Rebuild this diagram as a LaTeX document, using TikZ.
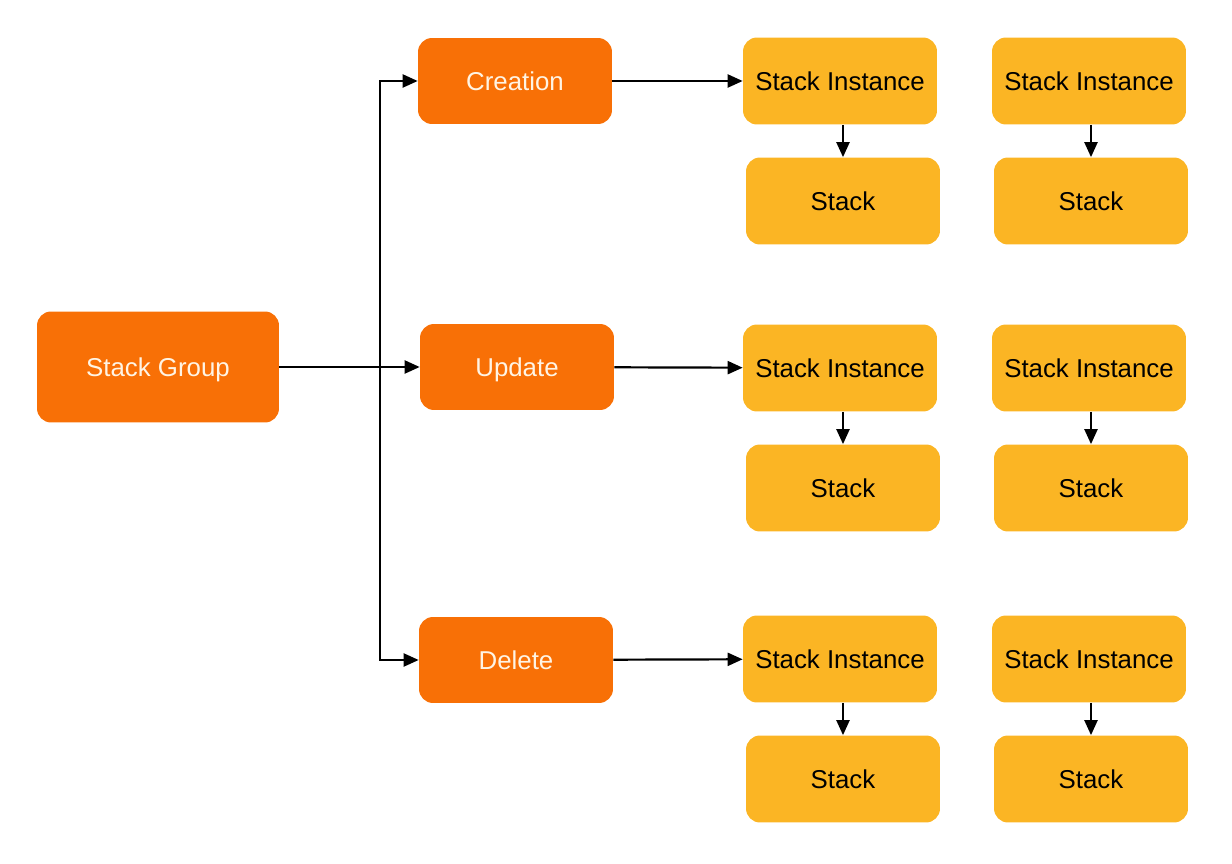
\documentclass[tikz,border=0pt]{standalone}
\usepackage{fontspec}
\setmainfont{Liberation Sans}
\usetikzlibrary{arrows.meta}

\definecolor{opOrange}{RGB}{248,112,6}
\definecolor{opText}{RGB}{255,244,228}
\definecolor{stYellow}{RGB}{251,181,36}

\tikzset{
  opbox/.style={fill=opOrange, text=opText, rounded corners=0.28cm,
    minimum width=3.88cm, minimum height=1.72cm, inner sep=0pt,
    text height=10.4pt, text depth=0pt,
    font=\fontsize{14.7}{17}\selectfont},
  stbox/.style={fill=stYellow, text=black, rounded corners=0.28cm,
    minimum width=3.88cm, minimum height=1.74cm, inner sep=0pt,
    text height=10.4pt, text depth=0pt,
    font=\fontsize{14.7}{17}\selectfont},
  link/.style={line width=1.25pt, -{Stealth[length=0.3cm, width=0.26cm, inset=0pt]}}
}

\begin{document}
\begin{tikzpicture}[x=0.02cm, y=-0.02cm]
    \useasboundingbox (0,0) rectangle (1232,864);

    % Root: the stack group
    \node[opbox, minimum width=4.84cm, minimum height=2.22cm] (group) at (158,367) {Stack Group};

    % Operations on the group
    \node[opbox] (creation) at (515,81)  {Creation};
    \node[opbox] (update)   at (517,367) {Update};
    \node[opbox] (delete)   at (516,660) {Delete};

    % Branching trunk from the group to the operations
    \coordinate (trunk) at (380,367);
    \draw[link] (group) -- (update);
    \draw[link] (trunk) |- (creation);
    \draw[link] (trunk) |- (delete);

    % Two stack instances per operation, each holding a stack
    \foreach \op/\y in {creation/81, update/368, delete/659} {
      \node[stbox] (\op-si1) at (840,\y)      {Stack Instance};
      \node[stbox] (\op-st1) at (843,\y+120)  {Stack};
      \node[stbox] (\op-si2) at (1089,\y)     {Stack Instance};
      \node[stbox] (\op-st2) at (1091,\y+120) {Stack};
      \draw[link] (\op) -- (\op-si1);
      \draw[link] (\op-si1.south -| \op-st1) -- (\op-st1);
      \draw[link] (\op-si2.south -| \op-st2) -- (\op-st2);
    }
\end{tikzpicture}
\end{document}
